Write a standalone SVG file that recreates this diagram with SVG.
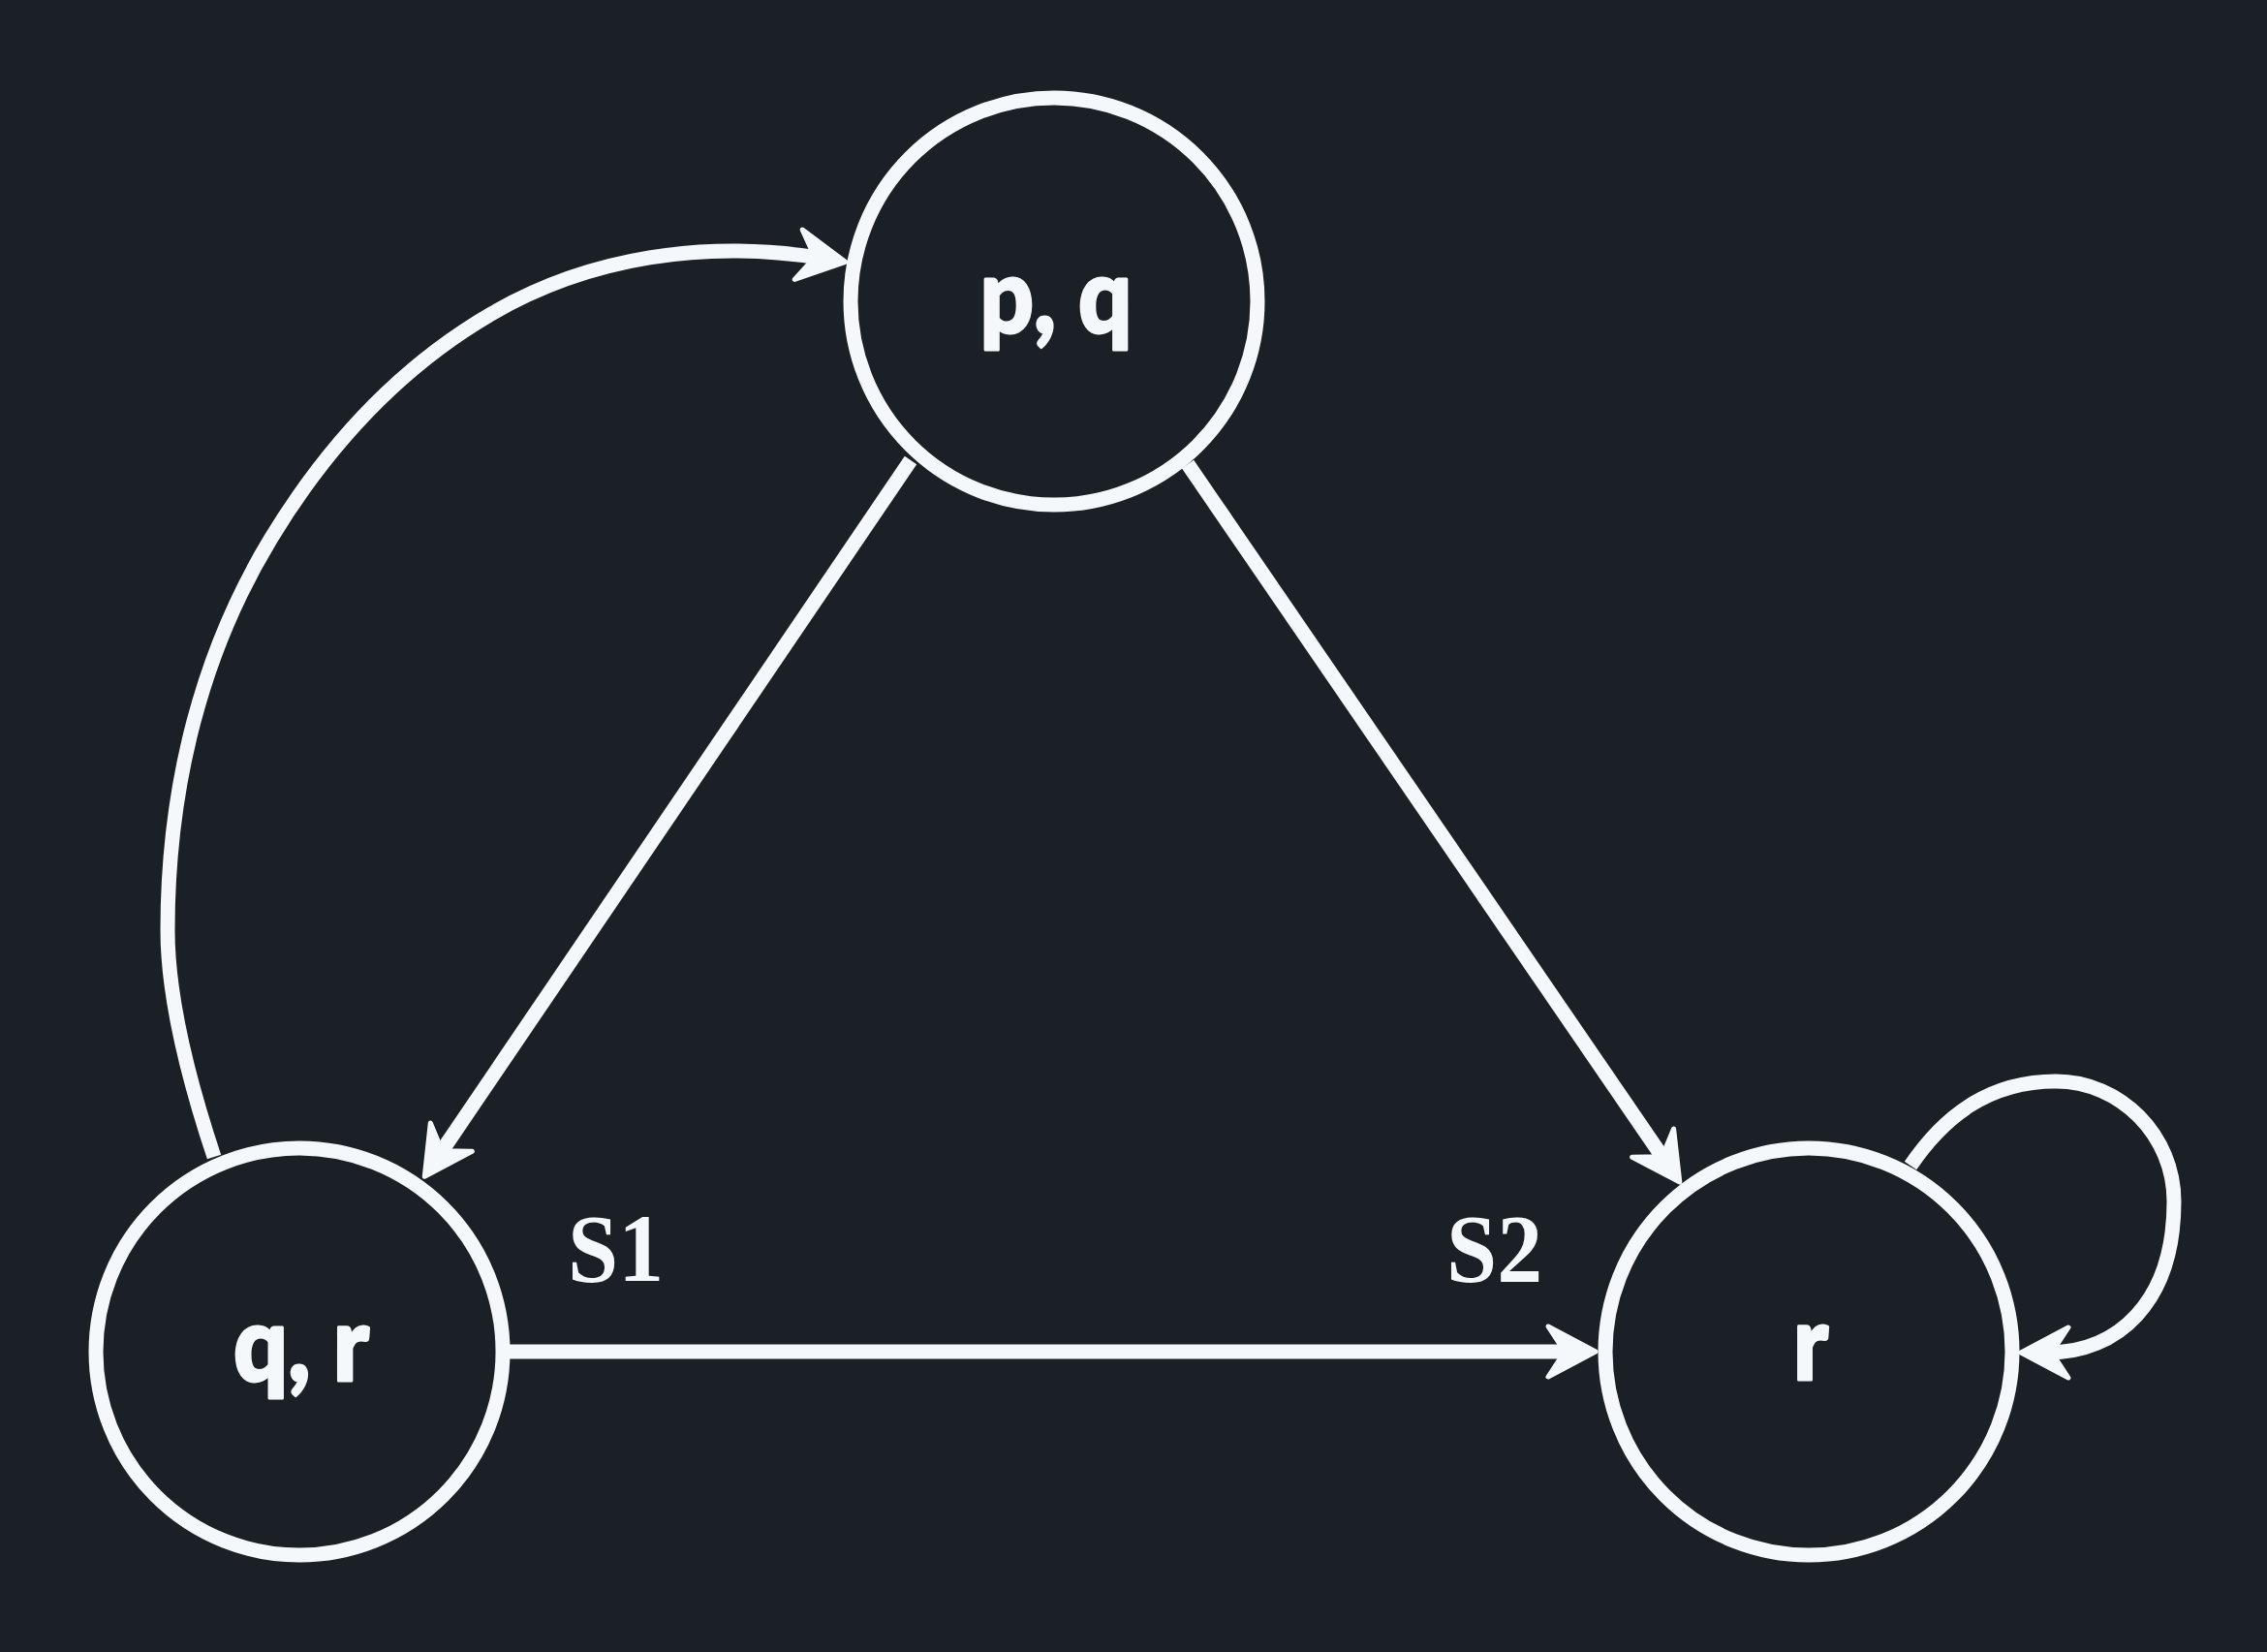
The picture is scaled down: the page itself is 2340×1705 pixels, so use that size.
<svg xmlns="http://www.w3.org/2000/svg" width="2340" height="1705" viewBox="0 0 2340 1705">
  <style>
    .bg { fill: #1b1f26; }
    .node circle { fill: #1b1f26; stroke: #f4f8fb; stroke-width: 15; }
    .node text { fill: #f4f8fb; stroke: #f4f8fb; stroke-width: 3; stroke-linejoin: round; font-family: Lato, "Open Sans", "Noto Sans", sans-serif; font-weight: 900; font-size: 107px; text-anchor: middle; }
    .edge { fill: none; stroke: #f4f8fb; stroke-width: 15; }
    .label { fill: #f4f8fb; font-family: "Liberation Serif", "Times New Roman", serif; font-weight: 700; font-size: 100px; }
  </style>
  <defs>
    <marker id="arrow" markerUnits="userSpaceOnUse" orient="auto" refX="0" refY="0" markerWidth="80" markerHeight="80" style="overflow:visible">
      <path d="M28,0 L-21,-26 L-4,0 L-21,26 Z" fill="#f4f8fb" stroke="#f4f8fb" stroke-width="5" stroke-linejoin="round"/>
    </marker>
  </defs>

  <rect class="bg" x="0" y="0" width="2340" height="1705"/>

  <!-- states -->
  <g id="node-pq" class="node">
    <circle cx="1088" cy="311" r="210"/>
    <text x="1090" y="343" textLength="157" lengthAdjust="spacingAndGlyphs">p, q</text>
  </g>
  <g id="node-qr" class="node">
    <circle cx="309" cy="1395" r="210"/>
    <text x="311" y="1425" textLength="140" lengthAdjust="spacingAndGlyphs">q, r</text>
  </g>
  <g id="node-r" class="node">
    <circle cx="1867" cy="1395" r="210"/>
    <text x="1869" y="1424" textLength="36" lengthAdjust="spacingAndGlyphs">r</text>
  </g>

  <!-- transitions -->
  <g id="connectors">
    <path id="edge-pq-qr" class="edge" d="M940,475 L454,1191" marker-end="url(#arrow)"/>
    <path id="edge-pq-r" class="edge" d="M1226,479 L1718,1197" marker-end="url(#arrow)"/>
    <path id="edge-qr-r" class="edge" d="M526,1395 L1619,1395" marker-end="url(#arrow)"/>
    <path id="edge-qr-pq" class="edge" d="M221,1194 C195.7,1118 173,1030 173,960 C173,810 208.9,672.3 279.5,556 C336.6,461.9 412,379.4 507,324 C609,264.5 728.4,248 845,266" marker-end="url(#arrow)"/>
    <path id="edge-r-r" class="edge" d="M1972,1203 C2006,1153 2052,1116 2122,1116 C2189,1116 2244,1172 2244,1240 C2244,1345 2185,1396 2114,1396" marker-end="url(#arrow)"/>
  </g>

  <!-- labels -->
  <text class="label" x="586" y="1322" textLength="99" lengthAdjust="spacingAndGlyphs">S1</text>
  <text class="label" x="1493" y="1322" textLength="99" lengthAdjust="spacingAndGlyphs">S2</text>
</svg>
